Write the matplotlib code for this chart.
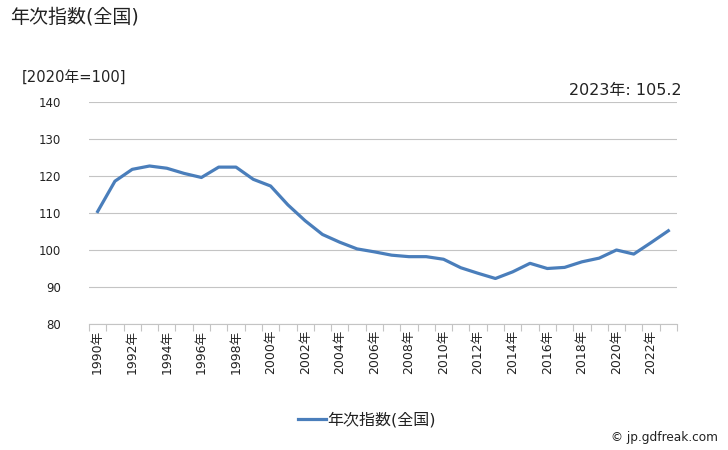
import matplotlib
matplotlib.use("Agg")
import matplotlib.pyplot as plt
import matplotlib.ticker as mticker

plt.rcParams["font.family"] = ["DejaVu Sans", "Noto Sans CJK JP"]

# ── Data ───────────────────────────────────────────────────────────────────
years = list(range(1990, 2024))
index_values = [
    110.4, 118.6, 121.8, 122.7, 122.1, 120.7, 119.6, 122.4, 122.4, 119.1,
    117.3, 112.2, 107.9, 104.2, 102.1, 100.3, 99.5, 98.6, 98.2, 98.2,
    97.5, 95.2, 93.7, 92.3, 94.1, 96.4, 95.0, 95.3, 96.8, 97.8,
    100.0, 98.9, 102.0, 105.2,
]
series_name = "年次指数(全国)"
y_ticks = [80, 90, 100, 110, 120, 130, 140]

LINE = "#4a7ebb"
GRID = "#c4c4c4"
TEXT = "#222222"

# ── Figure ─────────────────────────────────────────────────────────────────
fig = plt.figure(figsize=(7.28, 4.5), dpi=100)
ax = fig.add_axes([89 / 728, 1 - 324 / 450, 588 / 728, 222 / 450])

x = list(range(len(years)))
line, = ax.plot(x, index_values, color=LINE, linewidth=2.3, solid_joinstyle="round")

ax.set_xlim(-0.5, len(years) - 0.5)
ax.set_ylim(80, 140)
ax.set_yticks(y_ticks)
ax.tick_params(axis="y", length=0, labelsize=8.5, pad=20, colors=TEXT)
ax.grid(axis="y", color=GRID, linewidth=0.8)
ax.set_axisbelow(True)

# category boundaries as tick marks, labels every two years
ax.xaxis.set_major_locator(mticker.FixedLocator([i - 0.5 for i in range(len(years) + 1)]))
ax.xaxis.set_major_formatter(mticker.NullFormatter())
ax.xaxis.set_minor_locator(mticker.FixedLocator(x[::2]))
ax.xaxis.set_minor_formatter(mticker.FixedFormatter([f"{y}年" for y in years[::2]]))
ax.tick_params(axis="x", which="major", length=5, color=GRID, width=0.8)
ax.tick_params(axis="x", which="minor", length=0, labelsize=9, rotation=90, pad=4, colors=TEXT)

for side in ["top", "right", "left"]:
    ax.spines[side].set_visible(False)
ax.spines["bottom"].set_color(GRID)
ax.spines["bottom"].set_linewidth(0.8)

# ── Text ───────────────────────────────────────────────────────────────────
fig.text(10 / 728, 1 - 17 / 450, series_name, fontsize=13.7, va="center", ha="left", color=TEXT)
fig.text(22 / 728, 1 - 78 / 450, "[2020年=100]", fontsize=10.6, va="center", ha="left", color=TEXT)
fig.text(682 / 728, 1 - 90 / 450, f"{years[-1]}年: {index_values[-1]}", fontsize=11.5,
         va="center", ha="right", color=TEXT)
fig.text(718 / 728, 1 - 438 / 450, "© jp.gdfreak.com", fontsize=8.7, va="center", ha="right", color=TEXT)

fig.legend([line], [series_name], loc="center", bbox_to_anchor=(367 / 728, 1 - 420 / 450),
           frameon=False, fontsize=11.5, handlelength=1.75, handletextpad=0.1, labelcolor=TEXT)

fig.savefig("out.png", dpi=100)
